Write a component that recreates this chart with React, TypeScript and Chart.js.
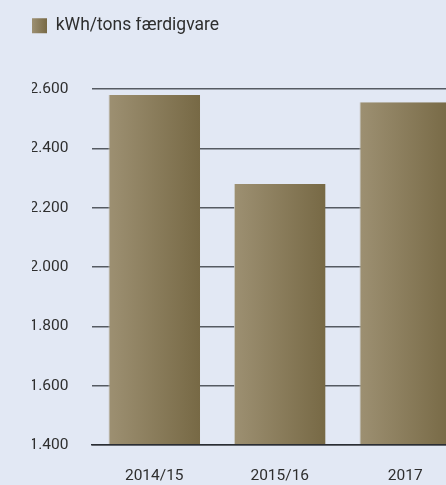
import React, { useEffect, useRef } from "react";
import { Chart, registerables } from "chart.js";

Chart.register(...registerables);

const categories = ["2014/15", "2015/16", "2017"];
const values = [2580, 2280, 2555];
const seriesLabel = "kWh/tons færdigvare";
const yMin = 1400;
const yMax = 2600;
const yStep = 200;

const FONT = "Roboto, 'Liberation Sans', sans-serif";
const BG = "#e2e8f4";
const LIGHT = "#9d9072";
const DARK = "#776945";
const TEXT = "#2e2e2e";
const GRID = "#555a62";
const BAR_PCT = 0.73;

function fmt(v: number): string {
  return String(v).replace(/\B(?=(\d{3})+(?!\d))/g, ".");
}

function gradient(ctx: CanvasRenderingContext2D, x0: number, x1: number) {
  const g = ctx.createLinearGradient(x0, 0, x1, 0);
  g.addColorStop(0, LIGHT);
  g.addColorStop(1, DARK);
  return g;
}

const legendSpacer = {
  id: "legendSpacer",
  beforeLayout(chart: any) {
    const lg = chart.legend;
    if (lg && !lg.__patched) {
      const orig = lg.fit;
      lg.fit = function () {
        orig.call(this);
        this.height = 72;
      };
      lg.__patched = true;
    }
  },
};

export default function App() {
  const ref = useRef<HTMLCanvasElement | null>(null);

  useEffect(() => {
    if (!ref.current) return;
    const chart = new Chart(ref.current, {
      type: "bar",
      data: {
        labels: categories,
        datasets: [
          {
            label: seriesLabel,
            data: values,
            backgroundColor: (c: any) => {
              const ch = c.chart;
              const xs = ch.scales && ch.scales.x;
              if (!ch.chartArea || !xs || c.dataIndex === undefined) return LIGHT;
              const center = xs.getPixelForValue(c.dataIndex);
              const w = (xs.width / categories.length) * BAR_PCT;
              return gradient(ch.ctx, center - w / 2, center + w / 2);
            },
            borderColor: "rgba(200,198,192,0.9)",
            borderWidth: { left: 1, top: 0, right: 0, bottom: 0 },
            borderSkipped: false,
            categoryPercentage: 1,
            barPercentage: BAR_PCT,
          },
        ],
      },
      options: {
        animation: false,
        responsive: false,
        devicePixelRatio: 1,
        layout: { padding: { left: 32, top: 17, right: 0, bottom: 0 } },
        plugins: {
          tooltip: { enabled: false },
          legend: {
            display: true,
            position: "top",
            align: "start",
            labels: {
              padding: 0,
              boxWidth: 15,
              boxHeight: 15,
              color: TEXT,
              font: { family: FONT, size: 17.5 },
              generateLabels: (ch: any) => [
                {
                  text: seriesLabel,
                  fillStyle: gradient(ch.ctx, 32, 47),
                  strokeStyle: "rgba(0,0,0,0)",
                  lineWidth: 0,
                  hidden: false,
                  datasetIndex: 0,
                  fontColor: TEXT,
                },
              ],
            },
          },
        },
        scales: {
          x: {
            grid: { display: false, drawTicks: false },
            border: { display: true, color: "#2a2d33", width: 1.5, z: 1 },
            ticks: {
              color: TEXT,
              font: { family: FONT, size: 15.5 },
              padding: 22,
              maxRotation: 0,
            },
            afterFit: (s: any) => {
              s.height = 40;
            },
          },
          y: {
            min: yMin,
            max: yMax,
            border: { display: false },
            grid: {
              color: GRID,
              lineWidth: 1.5,
              drawTicks: false,
            },
            ticks: {
              stepSize: yStep,
              color: TEXT,
              font: { family: FONT, size: 15.5 },
              padding: 23,
              callback: (v: any) => fmt(Number(v)),
            },
            afterFit: (s: any) => {
              s.width = 59.5;
            },
          },
        },
      },
      plugins: [legendSpacer],
    });
    return () => chart.destroy();
  }, []);

  return (
    <div
      style={{
        position: "fixed",
        left: 0,
        top: 0,
        width: 446,
        height: 485,
        overflow: "hidden",
        background: BG,
      }}
    >
      <canvas ref={ref} width={468} height={485} style={{ display: "block" }} />
    </div>
  );
}
